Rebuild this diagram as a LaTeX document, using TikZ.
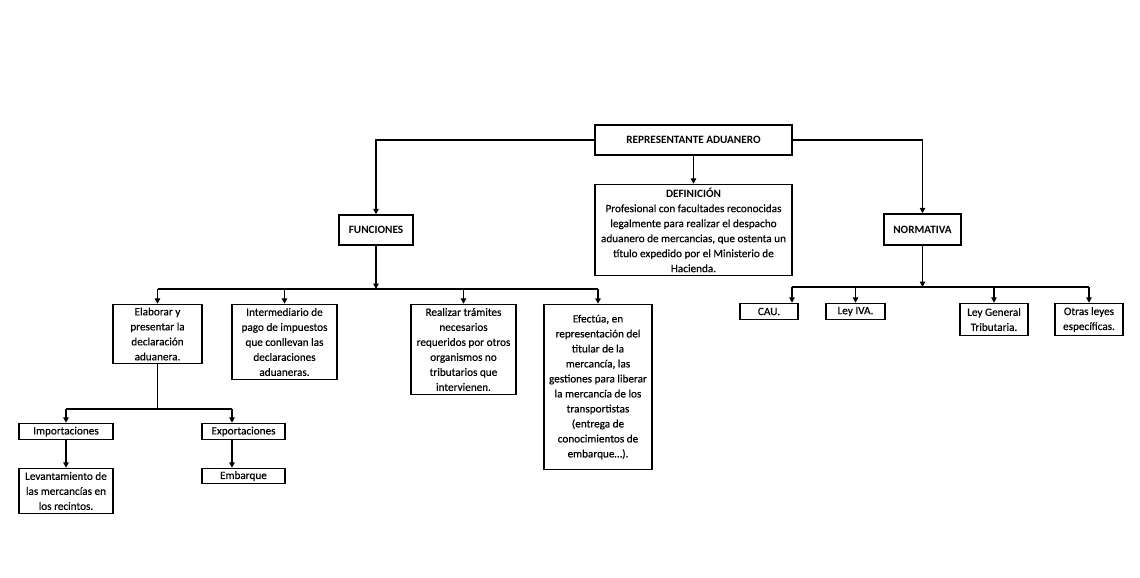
\documentclass[tikz,border=0pt]{standalone}
\usepackage{fontspec}
\setmainfont{Carlito}
\newfontfamily\boxfont{Carlito}[FakeBold=0.35]
\usetikzlibrary{arrows.meta,calc,shadows}
\begin{document}
\begin{tikzpicture}[x=1pt,y=-1pt,
  box/.style={draw, fill=white, line width=1.5pt, inner sep=0pt, align=center,
    font=\boxfont\fontsize{11.2}{15}\selectfont,
    drop shadow={shadow xshift=0.9pt,shadow yshift=-0.9pt,opacity=0.7,fill=black}},
  ttl/.style={font=\rmfamily\bfseries\fontsize{11.2}{15}\selectfont},
  line/.style={line width=1.4pt},
  arr/.style={line, -{Triangle[length=5.5pt,width=5.5pt]}}]
\useasboundingbox (0,0) rectangle (1140,578);
% top level
\node[box, ttl, minimum width=197, minimum height=30] (rep) at (693.5,140) {REPRESENTANTE ADUANERO};
\node[box, minimum width=197, minimum height=91] (def) at (693.5,230)
  {{\rmfamily\bfseries DEFINICIÓN}\\Profesional con facultades reconocidas\\legalmente para realizar el despacho\\aduanero de mercancias, que ostenta un\\título expedido por el Ministerio de\\Hacienda.};
\node[box, ttl, minimum width=74, minimum height=30] (fun) at (376,230) {FUNCIONES};
\node[box, ttl, minimum width=77, minimum height=31] (norm) at (922.5,229.5) {NORMATIVA};
% normativa
\node[box, minimum width=58, minimum height=16] (cau) at (769,311.5) {CAU.};
\node[box, minimum width=59, minimum height=16] (iva) at (855.5,311.5) {Ley IVA.};
\node[box, minimum width=68, minimum height=32] (lgt) at (994,319.5) {Ley General\\Tributaria.};
\node[box, minimum width=68, minimum height=32] (otr) at (1089,319.5) {Otras leyes\\específicas.};
% funciones
\node[box, minimum width=89, minimum height=59] (ela) at (157.5,334) {Elaborar y\\presentar la\\declaración\\aduanera.};
\node[box, minimum width=105, minimum height=75] (int) at (284.5,342) {Intermediario de\\pago de impuestos\\que conllevan las\\declaraciones\\aduaneras.};
\node[box, minimum width=105, minimum height=90] (rea) at (463.5,349.5) {Realizar trámites\\necesarios\\requeridos por otros\\organismos no\\tributarios que\\intervienen.};
\node[box, minimum width=108, minimum height=165] (efe) at (598,387) {Efectúa, en\\representación del\\titular de la\\mercancía, las\\gestiones para liberar\\la mercancía de los\\transportistas\\(entrega de\\conocimientos de\\embarque…).};
% elaborar
\node[box, minimum width=94, minimum height=16] (imp) at (66,431.5) {Importaciones};
\node[box, minimum width=83, minimum height=16] (exp) at (243.5,431.5) {Exportaciones};
\node[box, minimum width=94, minimum height=45] (lev) at (66,491) {Levantamiento de\\las mercancías en\\los recintos.};
\node[box, minimum width=83, minimum height=15] (emb) at (243.5,476) {Embarque};
% connectors
\draw[arr] (rep.west) -| (fun.north);
\draw[arr] (rep.east) -| (norm.north);
\draw[arr] (rep.south) -- (def.north);
\coordinate (fbus) at (0,289);
\draw[arr] (fun.south) -- (fun.south |- fbus);
\draw[line] (ela.north |- fbus) -- (efe.north |- fbus);
\foreach \n in {ela,int,rea,efe} \draw[arr] (\n.north |- fbus) -- (\n.north);
\coordinate (nbus) at (0,287);
\coordinate (caut) at ($(cau.north)+(23,0)$);
\draw[arr] (norm.south) -- (norm.south |- nbus);
\draw[line] (caut |- nbus) -- (otr.north |- nbus);
\draw[arr] (caut |- nbus) -- (caut);
\foreach \n in {iva,lgt,otr} \draw[arr] (\n.north |- nbus) -- (\n.north);
\coordinate (ebus) at (0,409);
\coordinate (expt) at ($(exp.north)+(-11.5,0)$);
\coordinate (embt) at ($(emb.north)+(-11.5,0)$);
\draw[line] (ela.south) -- (ela.south |- ebus);
\draw[line] (imp.north |- ebus) -- (expt |- ebus);
\draw[arr] (imp.north |- ebus) -- (imp.north);
\draw[arr] (expt |- ebus) -- (expt);
\draw[arr] (imp.south) -- (lev.north);
\draw[arr] (expt |- exp.south) -- (embt);
\end{tikzpicture}
\end{document}
